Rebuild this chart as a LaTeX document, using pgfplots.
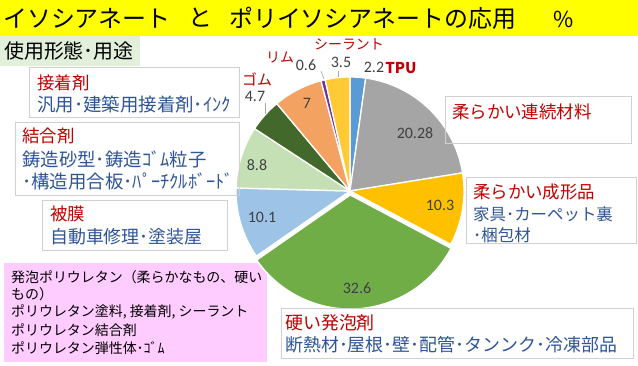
\documentclass[border=0pt]{standalone}
\usepackage{fontspec}
\setmainfont{Noto Sans CJK JP}
\newfontfamily\numfont{Carlito}
\usepackage{pgfplots}
\usepackage{pgfplotstable}
\pgfplotsset{compat=1.18}

\definecolor{pie0}{HTML}{5B9BD5}
\definecolor{pie1}{HTML}{A5A5A5}
\definecolor{pie2}{HTML}{FFC000}
\definecolor{pie3}{HTML}{70AD47}
\definecolor{pie4}{HTML}{9DC3E6}
\definecolor{pie5}{HTML}{C5E0B4}
\definecolor{pie6}{HTML}{43682B}
\definecolor{pie7}{HTML}{F4A261}
\definecolor{pie8}{HTML}{7030A0}
\definecolor{pie9}{HTML}{FFCA35}
\definecolor{redtxt}{HTML}{C00000}
\definecolor{bluetxt}{HTML}{2F5597}
\definecolor{lbl}{HTML}{404040}
\definecolor{boxline}{HTML}{D0D0D0}
\definecolor{pinkbg}{HTML}{FFCCFF}
\definecolor{subbg}{HTML}{E2EFDA}
\definecolor{titlebg}{HTML}{FFFF00}

% values of the slices, clockwise from 12 o'clock
\pgfplotstableread{
idx val
0 2.2
1 20.28
2 10.3
3 32.6
4 10.1
5 8.8
6 4.7
7 7
8 0.6
9 3.5
}\piedata

\newcommand\piecx{350}
\newcommand\piecy{191}
\newcommand\pier{114}
\newcommand\pietotal{100.08}
\newcommand\fs[1]{\fontsize{#1}{#1}\selectfont}

\gdef\piecum{0}
\foreach \i in {0,...,9}{%
  \pgfplotstablegetelem{\i}{val}\of\piedata
  \pgfmathsetmacro\tmpA{90-\piecum/\pietotal*360}%
  \pgfmathsetmacro\tmpC{\piecum+\pgfplotsretval}%
  \xdef\piecum{\tmpC}%
  \pgfmathsetmacro\tmpB{90-\piecum/\pietotal*360}%
  \pgfmathsetmacro\tmpM{(\tmpA+\tmpB)/2}%
  \expandafter\xdef\csname pieA\i\endcsname{\tmpA}%
  \expandafter\xdef\csname pieB\i\endcsname{\tmpB}%
  \expandafter\xdef\csname pieM\i\endcsname{\tmpM}%
  \expandafter\xdef\csname pieE\i\endcsname{\ifnum\i=3 4\else 0\fi}%
}

\begin{document}
\begin{tikzpicture}
\begin{axis}[
  scale only axis, width=638bp, height=366bp,
  xmin=0, xmax=638, ymin=0, ymax=366, y dir=reverse,
  hide axis, clip=false, enlargelimits=false,
]
% background
\fill[white] (axis cs:0,0) rectangle (axis cs:638,366);
\fill[titlebg] (axis cs:0,0) rectangle (axis cs:638,36);
\fill[subbg] (axis cs:0,36) rectangle (axis cs:140,66);
\fill[pinkbg] (axis cs:4,263) rectangle (axis cs:267,362);

% pie
\pgfplotsinvokeforeach{0,...,9}{%
  \edef\temp{\noexpand\filldraw[fill=pie#1, draw=white, line width=1.3bp, line join=round]
   ([shift={(\csname pieM#1\endcsname:\csname pieE#1\endcsname bp)}]axis cs:\piecx,\piecy)
   -- ++(\csname pieA#1\endcsname:\pier bp)
   arc[start angle=\csname pieA#1\endcsname, end angle=\csname pieB#1\endcsname, radius=\pier bp] -- cycle;}%
  \temp
}

% leader lines
\draw[gray!70, line width=0.6bp] (axis cs:265,103) -- (axis cs:265,114);
\draw[gray!70, line width=0.6bp] (axis cs:321,71) -- (axis cs:324,79);
\draw[gray!70, line width=0.6bp] (axis cs:338,71) -- (axis cs:338,77);

% boxes
\draw[boxline, line width=1bp] (axis cs:29,67) rectangle (axis cs:239,117);
\draw[boxline, line width=1bp] (axis cs:15,122) rectangle (axis cs:239,195);
\draw[boxline, line width=1bp] (axis cs:42,200) rectangle (axis cs:227,250);
\draw[boxline, line width=1bp] (axis cs:445,96) rectangle (axis cs:631,143);
\draw[boxline, line width=1bp] (axis cs:466,177) rectangle (axis cs:636,243);
\draw[boxline, line width=1bp] (axis cs:281,308) rectangle (axis cs:633,358);

% title
\node[anchor=west, inner sep=0pt, font=\fs{24}] at (axis cs:3,18) {イソシアネート};
\node[anchor=west, inner sep=0pt, font=\fs{24}] at (axis cs:188,18) {と};
\node[anchor=west, inner sep=0pt, font=\fs{24}] at (axis cs:229,18) {ポリイソシアネートの応用};
\node[anchor=west, inner sep=0pt, font=\fs{22}] at (axis cs:553,19) {\%};
\node[anchor=west, inner sep=0pt, font=\fs{20}] at (axis cs:4,51) {使用形態･用途};

% left boxes
\node[anchor=west, inner sep=0pt, text=redtxt, font=\fs{17.5}] at (axis cs:37,83) {接着剤};
\node[anchor=west, inner sep=0pt, text=bluetxt, font=\fs{18.5}] at (axis cs:37,105) {汎用･建築用接着剤･ｲﾝｸ};
\node[anchor=west, inner sep=0pt, text=redtxt, font=\fs{17.5}] at (axis cs:22,136) {結合剤};
\node[anchor=west, inner sep=0pt, text=bluetxt, font=\fs{18.5}] at (axis cs:22,159) {鋳造砂型･鋳造ｺﾞﾑ粒子};
\node[anchor=west, inner sep=0pt, text=bluetxt, font=\fs{18.5}] at (axis cs:22,181) {･構造用合板･ﾊﾟｰﾁｸﾙﾎﾞｰﾄﾞ};
\node[anchor=west, inner sep=0pt, text=redtxt, font=\fs{17.5}] at (axis cs:50,214) {被膜};
\node[anchor=west, inner sep=0pt, text=bluetxt, font=\fs{18}] at (axis cs:50,237) {自動車修理･塗装屋};

% pink box
\node[anchor=west, inner sep=0pt, font=\fs{14}] at (axis cs:11,277) {発泡ポリウレタン（柔らかなもの、硬い};
\node[anchor=west, inner sep=0pt, font=\fs{14}] at (axis cs:11,294) {もの）};
\node[anchor=west, inner sep=0pt, font=\fs{14}] at (axis cs:11,312) {ポリウレタン塗料, 接着剤, シーラント};
\node[anchor=west, inner sep=0pt, font=\fs{14}] at (axis cs:11,330) {ポリウレタン結合剤};
\node[anchor=west, inner sep=0pt, font=\fs{14}] at (axis cs:11,348) {ポリウレタン弾性体･ｺﾞﾑ};

% right boxes
\node[anchor=west, inner sep=0pt, text=redtxt, font=\fs{17.5}] at (axis cs:452,112) {柔らかい連続材料};
\node[anchor=west, inner sep=0pt, text=redtxt, font=\fs{17.5}] at (axis cs:473,192) {柔らかい成形品};
\node[anchor=west, inner sep=0pt, text=bluetxt, font=\fs{16.5}] at (axis cs:473,214) {家具･カーペット裏};
\node[anchor=west, inner sep=0pt, text=bluetxt, font=\fs{16.5}] at (axis cs:473,235) {･梱包材};
\node[anchor=west, inner sep=0pt, text=redtxt, font=\fs{18}] at (axis cs:285,323) {硬い発泡剤};
\node[anchor=west, inner sep=0pt, text=bluetxt, font=\fs{18}] at (axis cs:285,345) {断熱材･屋根･壁･配管･タンンク･冷凍部品};

% outside category labels
\node[text=redtxt, inner sep=0pt, font=\fs{15}] at (axis cs:257,79) {ゴム};
\node[text=redtxt, inner sep=0pt, font=\fs{14}] at (axis cs:280,57) {リム};
\node[text=redtxt, inner sep=0pt, font=\fs{14}] at (axis cs:349,44) {シーラント};
\node[text=redtxt, inner sep=0pt, font=\fs{15}\bfseries] at (axis cs:401,68) {TPU};

% data labels
\begin{scope}[every node/.style={text=lbl, inner sep=0pt, font=\numfont\fs{16}}]
\node at (axis cs:374,67) {2.2};
\node at (axis cs:415,133) {20.28};
\node at (axis cs:440,205) {10.3};
\node at (axis cs:357,288) {32.6};
\node at (axis cs:262,217) {10.1};
\node at (axis cs:257,165) {8.8};
\node at (axis cs:255,96) {4.7};
\node at (axis cs:307,103) {7};
\node at (axis cs:306,65) {0.6};
\node at (axis cs:341,62) {3.5};
\end{scope}
\end{axis}
\end{tikzpicture}
\end{document}
